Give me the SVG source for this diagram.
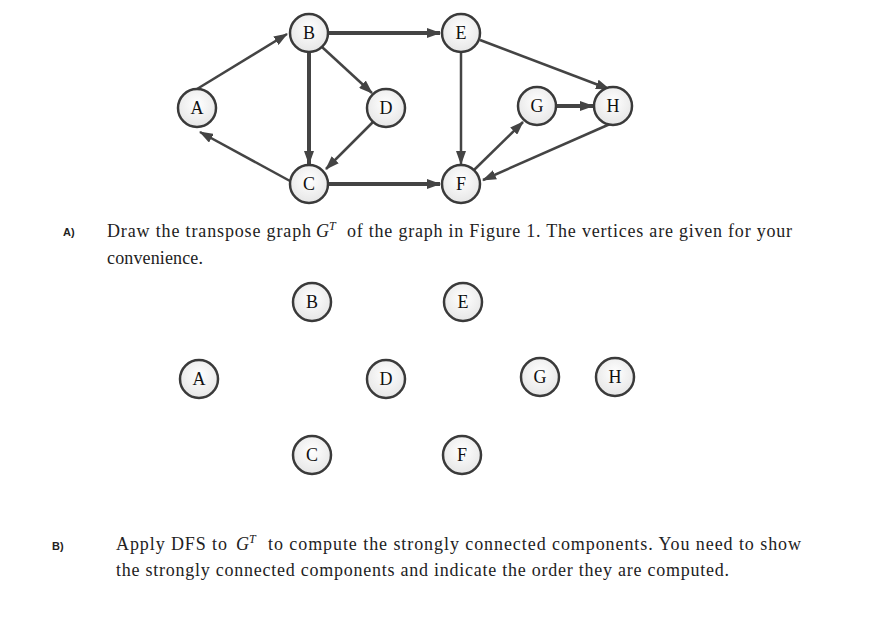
<svg xmlns="http://www.w3.org/2000/svg" width="885" height="640" viewBox="0 0 885 640">
<style>
.n circle{fill:url(#g);stroke:#3a3a3a;stroke-width:2.5}
.n text{font-family:"Liberation Serif",serif;font-size:18px;text-anchor:middle;fill:#111}
.e line{stroke:#444;stroke-width:2.5;marker-end:url(#a)}
.e line.t{stroke-width:4}
.p{font-family:"Liberation Serif",serif;font-size:18px;fill:#222}
.i{font-family:"Liberation Serif",serif;font-size:18px;font-style:italic;fill:#222}
.s{font-family:"Liberation Serif",serif;font-size:12px;font-style:italic;fill:#222}
.l{font-family:"Liberation Sans",sans-serif;font-size:11px;font-weight:bold;fill:#222}
</style>
<defs>
<radialGradient id="g" cx="0.5" cy="0.4" r="0.6"><stop offset="0" stop-color="#fff"/><stop offset="1" stop-color="#e6e6e6"/></radialGradient>
<marker id="a" viewBox="0 0 14 10" refX="13" refY="5" markerWidth="14" markerHeight="10" markerUnits="userSpaceOnUse" orient="auto"><path d="M0,0L14,5L0,10z" fill="#444"/></marker>
</defs>
<rect width="885" height="640" fill="#fff"/>
<g class="e" id="edges">
<line x1="197" y1="89" x2="287" y2="34"/>
<line class="t" x1="328" y1="33" x2="440" y2="33"/>
<line x1="322" y1="47" x2="372" y2="93"/>
<line class="t" x1="309" y1="52" x2="309" y2="164"/>
<line x1="373" y1="122" x2="326" y2="169"/>
<line x1="290" y1="181" x2="200" y2="132"/>
<line class="t" x1="328" y1="184" x2="440" y2="184"/>
<line x1="461" y1="52" x2="461" y2="164"/>
<line x1="480" y1="40" x2="609" y2="89"/>
<line x1="474" y1="170" x2="523" y2="122"/>
<line class="t" x1="556" y1="106" x2="593" y2="106"/>
<line x1="610" y1="124" x2="483" y2="180"/>
</g>
<g class="n" id="nA"><circle cx="197" cy="108" r="19"/><text x="197" y="114">A</text></g>
<g class="n" id="nB"><circle cx="309" cy="33" r="19"/><text x="309" y="39">B</text></g>
<g class="n" id="nE"><circle cx="461" cy="33" r="19"/><text x="461" y="39">E</text></g>
<g class="n" id="nD"><circle cx="386" cy="108" r="19"/><text x="386" y="114">D</text></g>
<g class="n" id="nG"><circle cx="537" cy="106" r="19"/><text x="537" y="112">G</text></g>
<g class="n" id="nH"><circle cx="613" cy="106" r="19"/><text x="613" y="112">H</text></g>
<g class="n" id="nC"><circle cx="309" cy="184" r="19"/><text x="309" y="190">C</text></g>
<g class="n" id="nF"><circle cx="461" cy="184" r="19"/><text x="461" y="190">F</text></g>
<text class="l" x="63" y="236">A)</text>
<text class="p" x="107" y="237" textLength="204">Draw the transpose graph</text>
<text class="i" x="316" y="237">G</text>
<text class="s" x="329" y="230">T</text>
<text class="p" x="347" y="237" textLength="445">of the graph in Figure 1.  The vertices are given for your</text>
<text class="p" x="107" y="264" textLength="96">convenience.</text>
<g class="n" id="tB"><circle cx="312" cy="302" r="19"/><text x="312" y="308">B</text></g>
<g class="n" id="tE"><circle cx="463" cy="302" r="19"/><text x="463" y="308">E</text></g>
<g class="n" id="tA"><circle cx="199" cy="379" r="19"/><text x="199" y="385">A</text></g>
<g class="n" id="tD"><circle cx="386" cy="379" r="19"/><text x="386" y="385">D</text></g>
<g class="n" id="tG"><circle cx="540" cy="377" r="19"/><text x="540" y="383">G</text></g>
<g class="n" id="tH"><circle cx="615" cy="377" r="19"/><text x="615" y="383">H</text></g>
<g class="n" id="tC"><circle cx="312" cy="455" r="19"/><text x="312" y="461">C</text></g>
<g class="n" id="tF"><circle cx="462" cy="455" r="19"/><text x="462" y="461">F</text></g>
<text class="l" x="52" y="550">B)</text>
<text class="p" x="116" y="550" textLength="111">Apply DFS to</text>
<text class="i" x="236" y="550">G</text>
<text class="s" x="249" y="543">T</text>
<text class="p" x="268" y="550" textLength="533">to compute the strongly connected components.  You need to show</text>
<text class="p" x="116" y="576" textLength="613">the strongly connected components and indicate the order they are computed.</text>
</svg>
